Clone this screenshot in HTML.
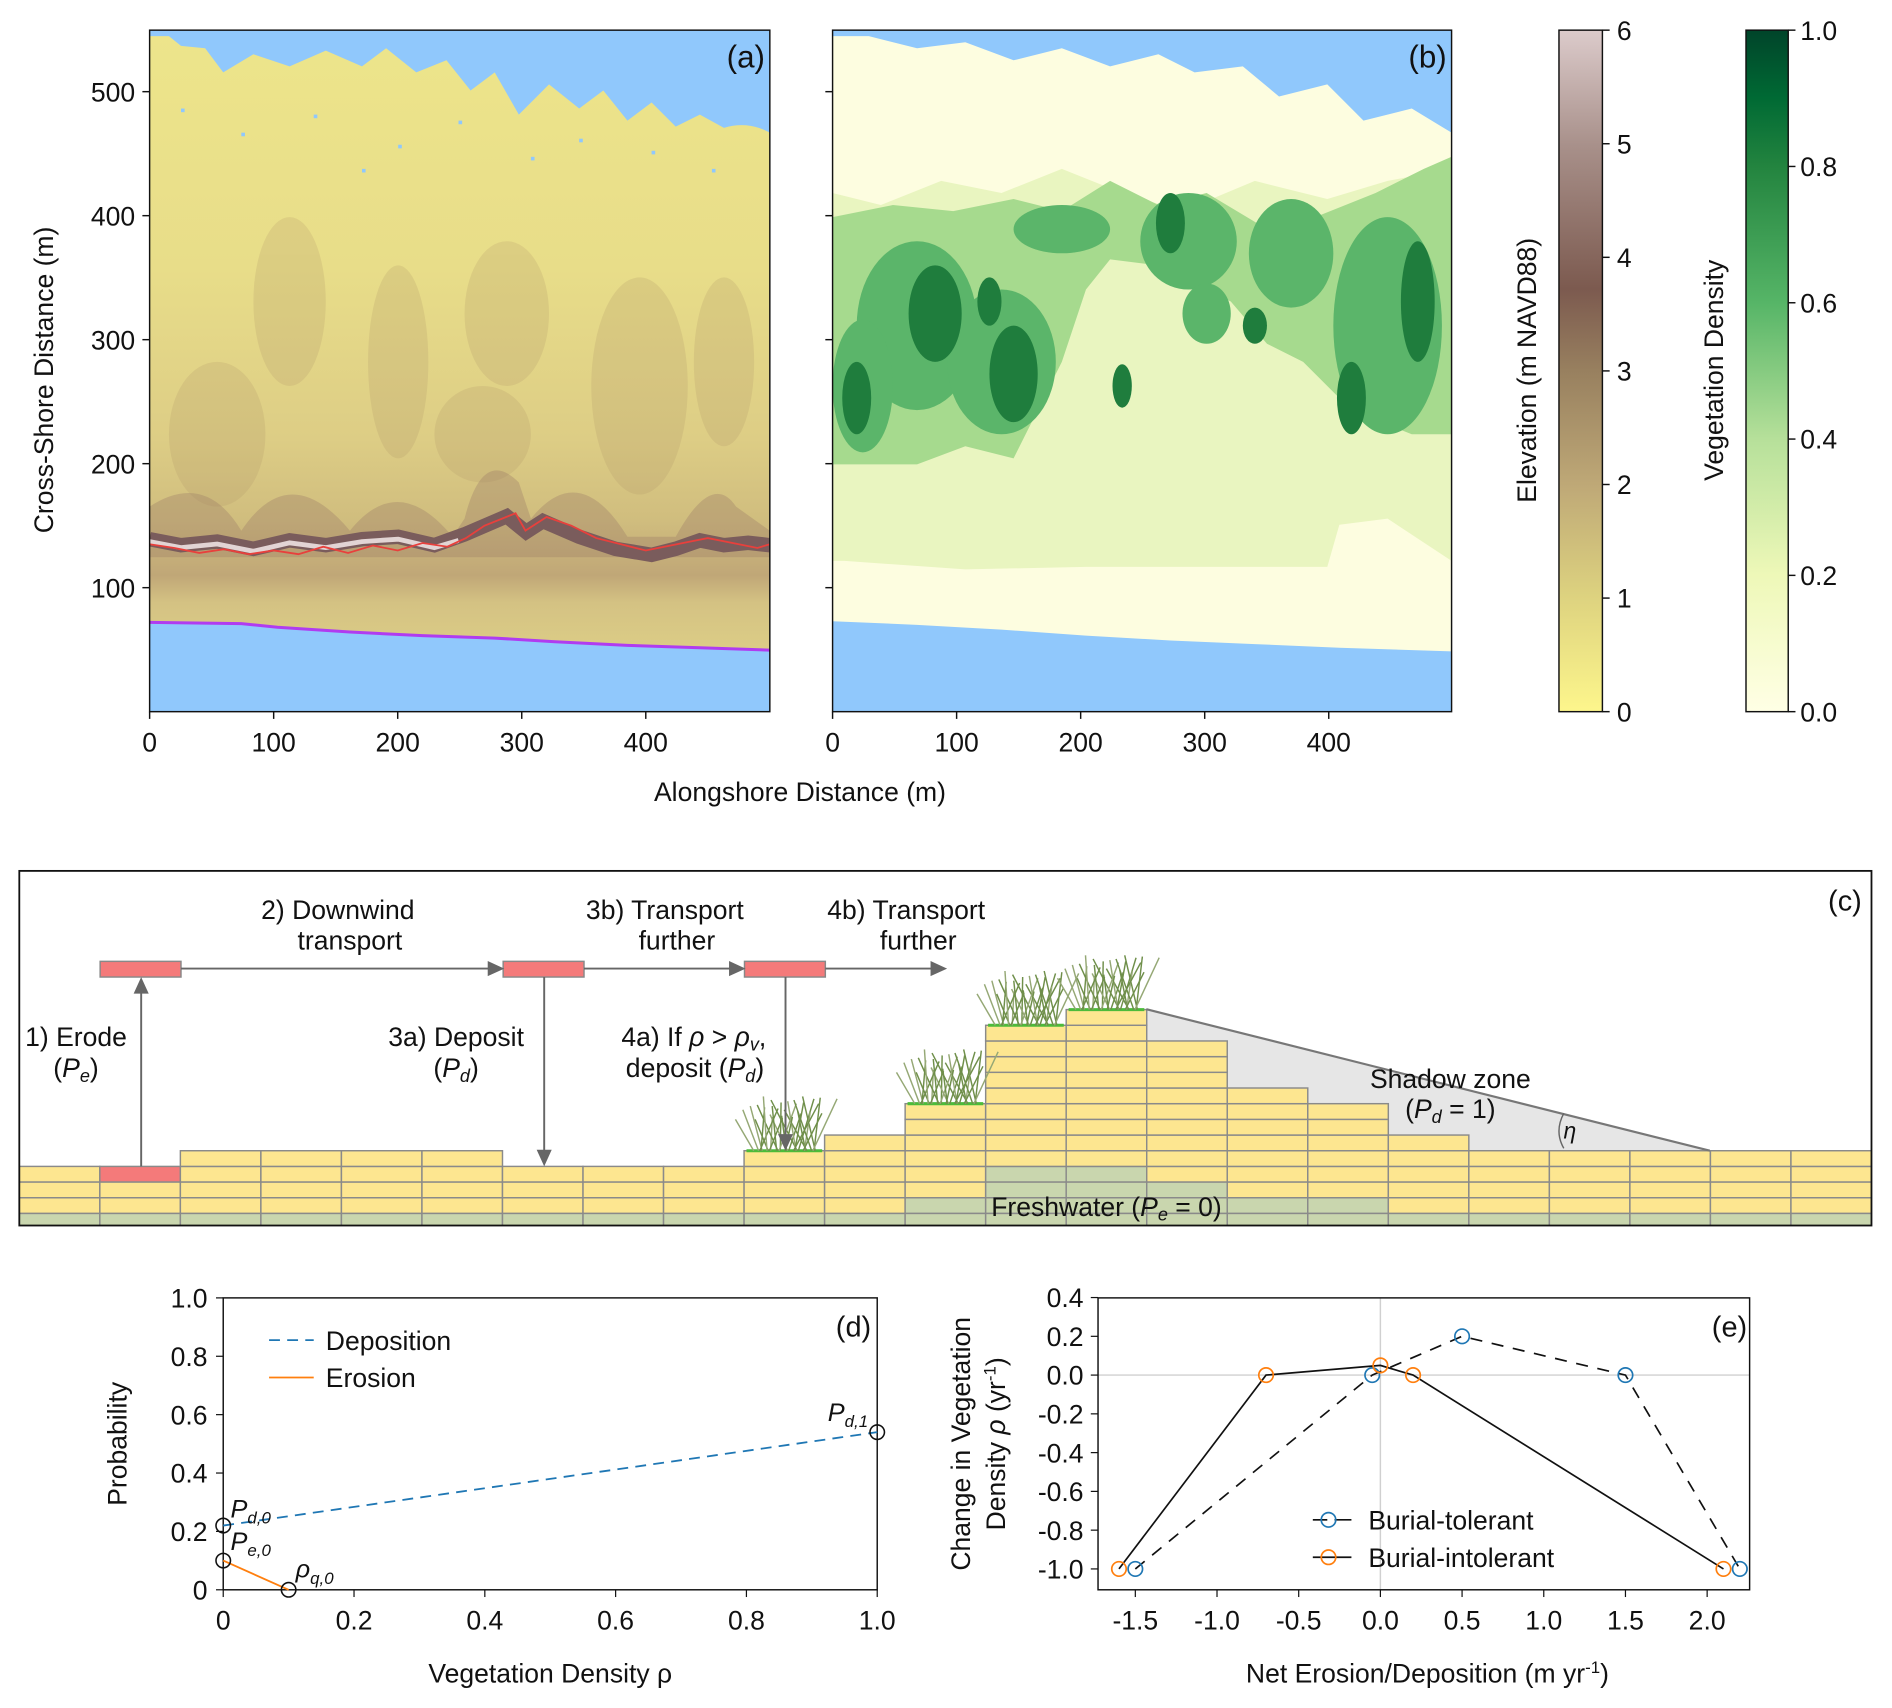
<!DOCTYPE html>
<html><head><meta charset="utf-8">
<style>
html,body{margin:0;padding:0;background:#fff;}
svg{display:block;}
text{font-family:"Liberation Sans",sans-serif;fill:#111;}
</style></head>
<body>
<svg id="fig" xmlns="http://www.w3.org/2000/svg" width="1892" height="1708" viewBox="0 0 1568 1416" preserveAspectRatio="none">
<defs>
<linearGradient id="elevGrad" x1="0" y1="1" x2="0" y2="0">
<stop offset="0" stop-color="#fdf68c"/><stop offset="0.17" stop-color="#ddd27f"/><stop offset="0.33" stop-color="#bfa977"/><stop offset="0.5" stop-color="#98805f"/><stop offset="0.62" stop-color="#7c5a4f"/><stop offset="0.83" stop-color="#a8908a"/><stop offset="1" stop-color="#dccbcb"/>
</linearGradient>
<linearGradient id="vegGrad" x1="0" y1="1" x2="0" y2="0">
<stop offset="0" stop-color="#ffffe5"/><stop offset="0.2" stop-color="#eef8b8"/><stop offset="0.4" stop-color="#b6e09a"/><stop offset="0.6" stop-color="#56b567"/><stop offset="0.8" stop-color="#23843f"/><stop offset="0.9" stop-color="#006a34"/><stop offset="1" stop-color="#00442a"/>
</linearGradient>
<linearGradient id="sandA" x1="0" y1="0" x2="0" y2="1">
<stop offset="0" stop-color="#ede58b"/><stop offset="0.35" stop-color="#e8dd89"/><stop offset="0.6" stop-color="#ddcd85"/><stop offset="0.72" stop-color="#d0bd7e"/><stop offset="0.8" stop-color="#c0a777"/><stop offset="0.84" stop-color="#d4c283"/><stop offset="1" stop-color="#e6db8a"/>
</linearGradient>
<clipPath id="clipA"><rect x="124" y="25" width="514" height="565"/></clipPath>
<clipPath id="clipB"><rect x="690" y="25" width="513" height="565"/></clipPath>
<clipPath id="clipC"><rect x="16" y="722" width="1535" height="294"/></clipPath>
</defs>

<!-- Panel A -->
<g id="panelA" clip-path="url(#clipA)">
<rect x="124" y="25" width="514" height="565" fill="url(#sandA)"/>
<g fill="#b09668" opacity="0.22">
<ellipse cx="240" cy="250" rx="30" ry="70"/><ellipse cx="330" cy="300" rx="25" ry="80"/><ellipse cx="420" cy="260" rx="35" ry="60"/><ellipse cx="530" cy="320" rx="40" ry="90"/><ellipse cx="180" cy="360" rx="40" ry="60"/><ellipse cx="600" cy="300" rx="25" ry="70"/><ellipse cx="400" cy="360" rx="40" ry="40"/>
</g>
<path d="M124,420 Q170,390 200,440 Q240,380 290,440 Q330,390 375,445 L385,430 Q400,370 430,400 L440,430 Q480,380 520,445 L560,445 Q590,390 610,420 L638,440 L638,462 L124,462Z" fill="#9b7b66" opacity="0.35"/>
<path id="duneBand" d="M124,447 L150,452 L180,449 L210,455 L240,448 L270,452 L300,447 L330,445 L360,452 L385,443 L420,428 L436,441 L450,432 L480,445 L510,455 L540,460 L560,455 L580,448 L600,452 L620,450 L638,452" fill="none" stroke="#7a5c5c" stroke-width="12"/>
<path d="M124,449 L150,454 L180,451 L210,457 L240,450 L270,454 L300,449 L330,447 L360,454 L380,448" fill="none" stroke="#e2d4d4" stroke-width="4"/>
<path d="M124,25 L638,25 L638,110 Q620,100 600,106 L580,95 L560,105 L540,85 L520,100 L500,75 L480,90 L455,70 L430,95 L410,60 L390,75 L370,50 L345,60 L320,40 L300,55 L270,42 L240,55 L210,45 L185,60 L170,40 L150,38 L140,30 L124,30Z" fill="#90c8fc"/>
<g fill="#90c8fc">
<rect x="150" y="90" width="3" height="3"/><rect x="200" y="110" width="3" height="3"/><rect x="260" y="95" width="3" height="3"/><rect x="330" y="120" width="3" height="3"/><rect x="380" y="100" width="3" height="3"/><rect x="440" y="130" width="3" height="3"/><rect x="480" y="115" width="3" height="3"/><rect x="540" y="125" width="3" height="3"/><rect x="590" y="140" width="3" height="3"/><rect x="300" y="140" width="3" height="3"/>
</g>
<path id="shoreA" d="M124,516 L200,517 L230,520 L290,524 L350,527 L410,529 L460,532 L520,535 L580,537 L638,539 L638,590 L124,590Z" fill="#90c8fc"/>
<path d="M124,516 L200,517 L230,520 L290,524 L350,527 L410,529 L460,532 L520,535 L580,537 L638,539" fill="none" stroke="#b03cf0" stroke-width="2.5"/>
<polyline id="toeLine" fill="none" stroke="#e8403c" stroke-width="1.5"/>
</g>
<rect x="124" y="25" width="514" height="565" fill="none" stroke="#111" stroke-width="1.2"/>
<text x="634" y="56" font-size="26" text-anchor="end">(a)</text>

<!-- Panel B -->
<g id="panelB" clip-path="url(#clipB)">
<rect x="690" y="25" width="513" height="565" fill="#fdfde0"/>
<path d="M690,160 L730,170 L780,150 L830,160 L880,140 L930,160 L980,175 L1040,150 L1100,165 L1150,150 L1203,140 L1203,465 L1150,430 L1110,435 L1100,470 L1000,470 L900,470 L800,472 L700,465 L690,465Z" fill="#e9f5c0"/>
<path d="M690,180 L740,170 L790,175 L840,165 L880,175 L920,150 L960,170 L1000,160 L1050,190 L1090,180 L1140,160 L1180,140 L1203,130 L1203,360 L1170,360 L1120,340 L1080,300 L1050,285 L1020,250 L960,220 L920,215 L900,240 L880,300 L860,340 L840,380 L800,370 L760,385 L720,385 L690,385Z" fill="#a6da8e"/>
<g fill="#5bb56a">
<ellipse cx="760" cy="270" rx="50" ry="70"/><ellipse cx="830" cy="300" rx="45" ry="60"/><ellipse cx="715" cy="320" rx="25" ry="55"/><ellipse cx="985" cy="200" rx="40" ry="40"/><ellipse cx="1070" cy="210" rx="35" ry="45"/><ellipse cx="1150" cy="270" rx="45" ry="90"/><ellipse cx="880" cy="190" rx="40" ry="20"/><ellipse cx="1000" cy="260" rx="20" ry="25"/>
</g>
<g fill="#1f7d3d">
<ellipse cx="775" cy="260" rx="22" ry="40"/><ellipse cx="840" cy="310" rx="20" ry="40"/><ellipse cx="970" cy="185" rx="12" ry="25"/><ellipse cx="1120" cy="330" rx="12" ry="30"/><ellipse cx="1175" cy="250" rx="14" ry="50"/><ellipse cx="820" cy="250" rx="10" ry="20"/><ellipse cx="710" cy="330" rx="12" ry="30"/><ellipse cx="930" cy="320" rx="8" ry="18"/><ellipse cx="1040" cy="270" rx="10" ry="15"/>
</g>
<path d="M690,25 L1203,25 L1203,110 L1170,90 L1130,100 L1100,70 L1060,80 L1030,55 L990,60 L960,45 L920,55 L880,40 L840,50 L800,35 L760,40 L720,30 L690,30Z" fill="#90c8fc"/>
<path d="M690,515 L760,518 L830,522 L900,527 L970,531 L1040,534 L1110,537 L1203,540 L1203,590 L690,590Z" fill="#90c8fc"/>
</g>
<rect x="690" y="25" width="513" height="565" fill="none" stroke="#111" stroke-width="1.2"/>
<text x="1199" y="56" font-size="26" text-anchor="end">(b)</text>

<g id="axesAB" font-size="22"></g>
<text x="663" y="664" font-size="22" text-anchor="middle">Alongshore Distance (m)</text>
<text transform="translate(44,315) rotate(-90)" font-size="22" text-anchor="middle">Cross-Shore Distance (m)</text>

<!-- Colorbars -->
<rect x="1292" y="25" width="36" height="565" fill="url(#elevGrad)" stroke="#111" stroke-width="1.2"/>
<rect x="1447" y="25" width="35" height="565" fill="url(#vegGrad)" stroke="#111" stroke-width="1.2"/>
<g id="cbTicks" font-size="22"></g>
<text transform="translate(1273,307) rotate(-90)" font-size="22" text-anchor="middle">Elevation (m NAVD88)</text>
<text transform="translate(1428,307) rotate(-90)" font-size="22" text-anchor="middle">Vegetation Density</text>

<!-- Panel C -->
<g id="panelC">
<rect x="16" y="722" width="1535" height="294" fill="#fff"/>
<g id="shadow"><polygon points="950,836.7 1417,954 950,954" fill="#e6e6e6"/></g>
<g id="blocks" clip-path="url(#clipC)"></g>
<line x1="950" y1="836.7" x2="1417" y2="954" stroke="#777" stroke-width="1.8"/>
<path d="M1296,923 Q1288,938 1296,952" fill="none" stroke="#666" stroke-width="1.2"/>
<g id="grass"></g>
<g fill="#f47a7a" stroke="#888" stroke-width="1.2">
<rect x="83" y="797" width="67" height="13"/>
<rect x="417" y="797" width="67" height="13"/>
<rect x="617" y="797" width="67" height="13"/>
</g>
<g stroke="#666" stroke-width="1.6" fill="#666">
<line x1="150" y1="803" x2="410" y2="803"/><polygon points="416,803 405,798 405,808"/>
<line x1="484" y1="803" x2="610" y2="803"/><polygon points="616,803 605,798 605,808"/>
<line x1="684" y1="803" x2="777" y2="803"/><polygon points="783,803 772,798 772,808"/>
<line x1="117" y1="967" x2="117" y2="818"/><polygon points="117,812 112,823 122,823"/>
<line x1="451" y1="810" x2="451" y2="958"/><polygon points="451,965 446,954 456,954"/>
<line x1="651" y1="810" x2="651" y2="945"/><polygon points="651,952 646,941 656,941"/>
</g>
<g font-size="22" text-anchor="middle">
<text x="280" y="762">2) Downwind</text><text x="290" y="787">transport</text>
<text x="551" y="762">3b) Transport</text><text x="561" y="787">further</text>
<text x="751" y="762">4b) Transport</text><text x="761" y="787">further</text>
<text x="63" y="867">1) Erode</text><text x="63" y="893">(<tspan font-style="italic">P</tspan><tspan font-size="15" dy="4" font-style="italic">e</tspan><tspan dy="-4">)</tspan></text>
<text x="378" y="867">3a) Deposit</text><text x="378" y="893">(<tspan font-style="italic">P</tspan><tspan font-size="15" dy="4" font-style="italic">d</tspan><tspan dy="-4">)</tspan></text>
<text x="575" y="867">4a) If <tspan font-style="italic">ρ</tspan> &gt; <tspan font-style="italic">ρ</tspan><tspan font-size="15" dy="4" font-style="italic">v</tspan><tspan dy="-4">,</tspan></text>
<text x="576" y="893">deposit (<tspan font-style="italic">P</tspan><tspan font-size="15" dy="4" font-style="italic">d</tspan><tspan dy="-4">)</tspan></text>
<text x="1202" y="902">Shadow zone</text>
<text x="1202" y="927">(<tspan font-style="italic">P</tspan><tspan font-size="15" dy="4" font-style="italic">d</tspan><tspan dy="-4"> = 1)</tspan></text>
<text x="1301" y="944" font-style="italic" font-size="19">η</text>
<text x="917" y="1008">Freshwater (<tspan font-style="italic">P</tspan><tspan font-size="15" dy="4" font-style="italic">e</tspan><tspan dy="-4"> = 0)</tspan></text>
<text x="1529" y="755" font-size="24">(c)</text>
</g>
<rect x="16" y="722" width="1535" height="294" fill="none" stroke="#111" stroke-width="1.5"/>
</g>

<!-- Panel D -->
<g id="panelD"></g>
<!-- Panel E -->
<g id="panelE"></g>
</svg>

<script>
// ---------- Panel A dune toe line (data: alongshore m, cross-shore m)
const toeX=[0,20,40,60,80,100,120,140,160,180,200,220,240,255,270,295,303,320,340,360,380,400,430,450,470,490,500];
const toeY=[135,132,128,131,127,130,127,133,128,134,130,136,133,140,150,160,146,157,150,140,135,130,136,140,136,132,135];
// Panel D data
const depRho=[0,1];
const depP=[0.22,0.54];
const eroRho=[0,0.1];
const eroP=[0.1,0];
const dMarkX=[0,0,0.1,1];
const dMarkY=[0.22,0.1,0,0.54];
const dXTicks=[0,0.2,0.4,0.6,0.8,1.0];
const dXTickLabels=["0","0.2","0.4","0.6","0.8","1.0"];
const dYTicks=[0,0.2,0.4,0.6,0.8,1.0];
const dYTickLabels=["0","0.2","0.4","0.6","0.8","1.0"];
// Panel E data
const tolX=[-1.5,-0.05,0.5,1.5,2.2];
const tolY=[-1,0,0.2,0,-1];
const intX=[-1.6,-0.7,0,0.2,2.1];
const intY=[-1,0,0.05,0,-1];
const eXTicks=[-1.5,-1.0,-0.5,0.0,0.5,1.0,1.5,2.0];
const eXTickLabels=["-1.5","-1.0","-0.5","0.0","0.5","1.0","1.5","2.0"];
const eYTicks=[-1.0,-0.8,-0.6,-0.4,-0.2,0.0,0.2,0.4];
const eYTickLabels=["-1.0","-0.8","-0.6","-0.4","-0.2","0.0","0.2","0.4"];
// Map axes
const abXTicks=[0,100,200,300,400];
const abYTicks=[100,200,300,400,500];
const elevTicks=[0,1,2,3,4,5,6];
const vegTicks=[0,0.2,0.4,0.6,0.8,1.0];
const vegTickLabels=["0.0","0.2","0.4","0.6","0.8","1.0"];
// Panel C column heights (rows above base)
const colHeights=[0,0,1,1,1,1,0,0,0,1,2,4,9,10,8,5,4,2,1,1,1,1,1];

const NS="http://www.w3.org/2000/svg";
function mk(tag,attrs,parent,txt){const e=document.createElementNS(NS,tag);for(const k in attrs)e.setAttribute(k,attrs[k]);if(txt!==undefined)e.textContent=txt;parent.appendChild(e);return e;}

const ax=x=>124+x*1.028, ay=y=>590-y*1.028;
document.getElementById('toeLine').setAttribute('points',toeX.map((x,i)=>ax(x)+','+ay(toeY[i])).join(' '));

const gab=document.getElementById('axesAB');
[124,690].forEach((x0,pi)=>{
  abXTicks.forEach(v=>{const x=x0+v*1.028;
    const t=mk('line',{x1:x,y1:590,x2:x,y2:596,stroke:'#111','stroke-width':1.2},gab);
    
    
    const l=mk('text',{x:x,y:623,'text-anchor':'middle'},gab,String(v));
    
    
  });
  abYTicks.forEach(v=>{const y=590-v*1.028;
    mk('line',{x1:x0-6,y1:y,x2:x0,y2:y,stroke:'#111','stroke-width':1.2},gab);
    if(pi===0){const l=mk('text',{x:x0-12,y:y+8,'text-anchor':'end'},gab,String(v));
      
      }
  });
});
const gcb=document.getElementById('cbTicks');
elevTicks.forEach(v=>{const y=590-v*565/6;
  mk('line',{x1:1328,y1:y,x2:1334,y2:y,stroke:'#111','stroke-width':1.2},gcb);
  const l=mk('text',{x:1340,y:y+8},gcb,String(v));
  
  
});
vegTicks.forEach((v,i)=>{const y=590-v*565;
  mk('line',{x1:1482,y1:y,x2:1488,y2:y,stroke:'#111','stroke-width':1.2},gcb);
  const l=mk('text',{x:1492,y:y+8},gcb,vegTickLabels[i]);
  
  
});

const gb=document.getElementById('blocks');
const colW=1535/23, rowH=13, groundY=967;
function fresh(ci,ri){
  if(ri===3) return true;
  if(ri===2) return ci>=11&&ci<=16;
  if(ri===1) return ci>=12&&ci<=14;
  if(ri===0) return ci>=12&&ci<=13;
  return false;
}
colHeights.forEach((h,ci)=>{
  const x=16+ci*colW;
  for(let r=0;r<4;r++){
    let fill=fresh(ci,r)?'#c9d6ae':'#fde690';
    if(ci===1&&r===0) fill='#f47a7a';
    mk('rect',{x:x,y:groundY+r*rowH,width:colW,height:rowH,fill:fill,stroke:'#8a8a8a','stroke-width':1.2},gb);
  }
  for(let r=1;r<=h;r++){
    mk('rect',{x:x,y:groundY-r*rowH,width:colW,height:rowH,fill:'#fde690',stroke:'#8a8a8a','stroke-width':1.2},gb);
  }
});
const gg=document.getElementById('grass');
[9,11,12,13].forEach(ci=>{
  const h=colHeights[ci];const x=16+ci*colW;const top=groundY-h*rowH;
  mk('line',{x1:x+2,y1:top,x2:x+colW-2,y2:top,stroke:'#4cbb3a','stroke-width':2.5},gg);
  for(let k=0;k<30;k++){
    const bx=x+8+(k*37%52);const ang=((k*53)%70-35)/60;const len=26+(k*17)%20;
    mk('line',{x1:bx,y1:top,x2:bx+ang*len,y2:top-len,stroke:(k%3?'#6f8f4a':'#95a875'),'stroke-width':1.2},gg);
  }
});

// Panel D
const gd=document.getElementById('panelD');
const dx=v=>185+v*542, dy=v=>1318-v*242;
mk('rect',{x:185,y:1076,width:542,height:242,fill:'none',stroke:'#111','stroke-width':1.2},gd);
dXTicks.forEach((v,i)=>{mk('line',{x1:dx(v),y1:1318,x2:dx(v),y2:1324,stroke:'#111'},gd);
  const l=mk('text',{x:dx(v),y:1351,'text-anchor':'middle','font-size':22},gd,dXTickLabels[i]);
  
  });
dYTicks.forEach((v,i)=>{mk('line',{x1:179,y1:dy(v),x2:185,y2:dy(v),stroke:'#111'},gd);
  const l=mk('text',{x:172,y:dy(v)+8,'text-anchor':'end','font-size':22},gd,dYTickLabels[i]);
  
  });
const dep=mk('polyline',{points:depRho.map((v,i)=>dx(v)+','+dy(depP[i])).join(' '),fill:'none',stroke:'#1f77b4','stroke-width':1.5,'stroke-dasharray':'9,6'},gd);


const ero=mk('polyline',{points:eroRho.map((v,i)=>dx(v)+','+dy(eroP[i])).join(' '),fill:'none',stroke:'#ff7f0e','stroke-width':1.5},gd);


dMarkX.forEach((v,i)=>{const c=mk('circle',{cx:dx(v),cy:dy(dMarkY[i]),r:6,fill:'none',stroke:'#111','stroke-width':1.3},gd);
  
  });
mk('line',{x1:223,y1:1111,x2:260,y2:1111,stroke:'#1f77b4','stroke-width':1.5,'stroke-dasharray':'9,6'},gd);
mk('text',{x:270,y:1119,'font-size':22},gd,'Deposition');
mk('line',{x1:223,y1:1142,x2:260,y2:1142,stroke:'#ff7f0e','stroke-width':1.5},gd);
mk('text',{x:270,y:1150,'font-size':22},gd,'Erosion');
mk('text',{x:722,y:1108,'text-anchor':'end','font-size':24},gd,'(d)');
function sublabel(x,y,main,sub){const t=mk('text',{x:x,y:y,'font-size':21,'font-style':'italic'},gd,'');
  const a=document.createElementNS(NS,'tspan');a.textContent=main;t.appendChild(a);
  const b=document.createElementNS(NS,'tspan');b.setAttribute('font-size','14');b.setAttribute('dy','5');b.textContent=sub;t.appendChild(b);}
sublabel(191,1258,'P','d,0');sublabel(191,1285,'P','e,0');sublabel(245,1308,'ρ','q,0');sublabel(686,1178,'P','d,1');
mk('text',{x:456,y:1395,'text-anchor':'middle','font-size':22},gd,'Vegetation Density ρ');
mk('text',{transform:'translate(105,1197) rotate(-90)','text-anchor':'middle','font-size':22},gd,'Probability');

// Panel E
const ge=document.getElementById('panelE');
const ex=v=>1144+v*135.4, ey=v=>1140-v*160.7;
mk('line',{x1:ex(0),y1:1076,x2:ex(0),y2:1318,stroke:'#d0d0d0','stroke-width':1.2},ge);
mk('line',{x1:910,y1:ey(0),x2:1450,y2:ey(0),stroke:'#d0d0d0','stroke-width':1.2},ge);
mk('rect',{x:910,y:1076,width:540,height:242,fill:'none',stroke:'#111','stroke-width':1.2},ge);
eXTicks.forEach((v,i)=>{mk('line',{x1:ex(v),y1:1318,x2:ex(v),y2:1324,stroke:'#111'},ge);
  const l=mk('text',{x:ex(v),y:1351,'text-anchor':'middle','font-size':22},ge,eXTickLabels[i]);
  
  });
eYTicks.forEach((v,i)=>{mk('line',{x1:904,y1:ey(v),x2:910,y2:ey(v),stroke:'#111'},ge);
  const l=mk('text',{x:898,y:ey(v)+8,'text-anchor':'end','font-size':22},ge,eYTickLabels[i]);
  
  });
const tl=mk('polyline',{points:tolX.map((v,i)=>ex(v)+','+ey(tolY[i])).join(' '),fill:'none',stroke:'#111','stroke-width':1.4,'stroke-dasharray':'10,8'},ge);


const il=mk('polyline',{points:intX.map((v,i)=>ex(v)+','+ey(intY[i])).join(' '),fill:'none',stroke:'#111','stroke-width':1.4},ge);


tolX.forEach((v,i)=>{const c=mk('circle',{cx:ex(v),cy:ey(tolY[i]),r:6,fill:'none',stroke:'#1f77b4','stroke-width':1.4},ge);
  
  });
intX.forEach((v,i)=>{const c=mk('circle',{cx:ex(v),cy:ey(intY[i]),r:6,fill:'none',stroke:'#ff7f0e','stroke-width':1.4},ge);
  
  });
mk('line',{x1:1088,y1:1260,x2:1100,y2:1260,stroke:'#111','stroke-width':1.4},ge);
mk('line',{x1:1106,y1:1260,x2:1120,y2:1260,stroke:'#111','stroke-width':1.4},ge);
mk('circle',{cx:1101,cy:1260,r:6,fill:'none',stroke:'#1f77b4','stroke-width':1.4},ge);
mk('text',{x:1134,y:1268,'font-size':22},ge,'Burial-tolerant');
mk('line',{x1:1088,y1:1291,x2:1120,y2:1291,stroke:'#111','stroke-width':1.4},ge);
mk('circle',{cx:1101,cy:1291,r:6,fill:'none',stroke:'#ff7f0e','stroke-width':1.4},ge);
mk('text',{x:1134,y:1299,'font-size':22},ge,'Burial-intolerant');
mk('text',{x:1448,y:1108,'text-anchor':'end','font-size':24},ge,'(e)');
const xt=mk('text',{x:1183,y:1395,'text-anchor':'middle','font-size':22},ge,'Net Erosion/Deposition (m yr');
const s1=document.createElementNS(NS,'tspan');s1.setAttribute('font-size','14');s1.setAttribute('dy','-8');s1.textContent='-1';xt.appendChild(s1);
const s2=document.createElementNS(NS,'tspan');s2.setAttribute('dy','8');s2.textContent=')';xt.appendChild(s2);
mk('text',{transform:'translate(804,1197) rotate(-90)','text-anchor':'middle','font-size':22},ge,'Change in Vegetation');
const yt=mk('text',{transform:'translate(833,1197) rotate(-90)','text-anchor':'middle','font-size':22},ge,'Density ');
const r1=document.createElementNS(NS,'tspan');r1.setAttribute('font-style','italic');r1.textContent='ρ';yt.appendChild(r1);
const r2=document.createElementNS(NS,'tspan');r2.textContent=' (yr';yt.appendChild(r2);
const r3=document.createElementNS(NS,'tspan');r3.setAttribute('font-size','14');r3.setAttribute('dy','-8');r3.textContent='-1';yt.appendChild(r3);
const r4=document.createElementNS(NS,'tspan');r4.setAttribute('dy','8');r4.textContent=')';yt.appendChild(r4);
</script>
</body></html>
